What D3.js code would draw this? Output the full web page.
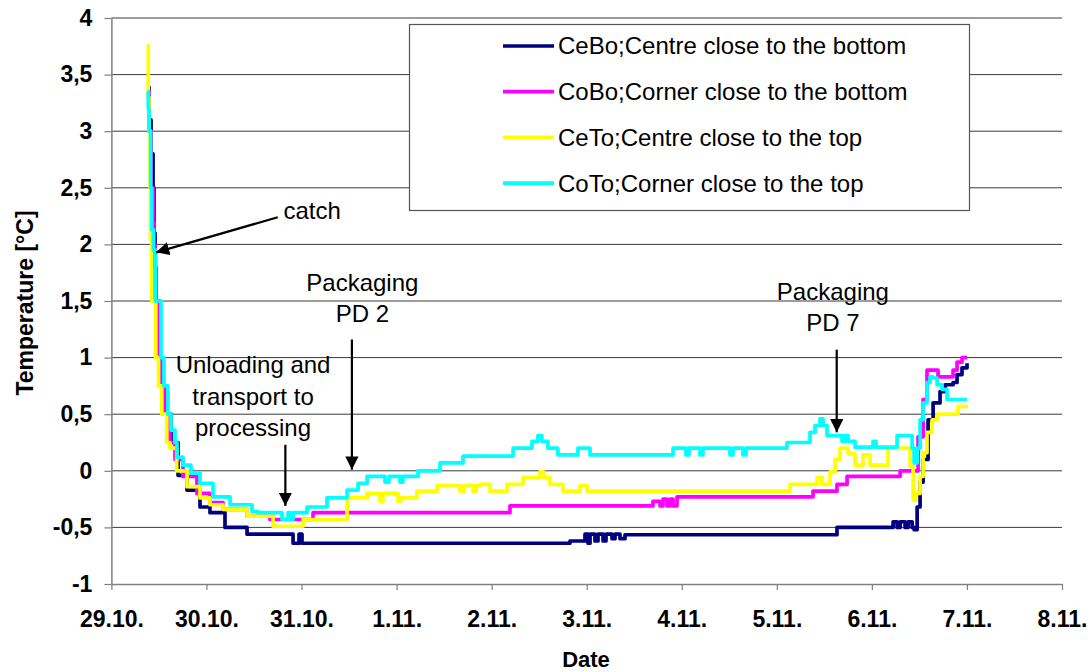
<!DOCTYPE html>
<html>
<head>
<meta charset="utf-8">
<script src="https://cdn.jsdelivr.net/npm/d3@7"></script>
<style>
  body { margin: 0; background: #fff; }
  svg { display: block; font-family: "Liberation Sans", Arial, sans-serif; }
</style>
</head>
<body>
<svg width="1092" height="672"></svg>
<script>
// day = days since 29.10. 00:00, temp in °C
var dateLabels = ["29.10.", "30.10.", "31.10.", "1.11.", "2.11.", "3.11.", "4.11.", "5.11.", "6.11.", "7.11.", "8.11."];
var tempTicks = [-1, -0.5, 0, 0.5, 1, 1.5, 2, 2.5, 3, 3.5, 4];

var seriesNames = ["CeBo;Centre close to the bottom", "CoBo;Corner close to the bottom",
                   "CeTo;Centre close to the top", "CoTo;Corner close to the top"];
var seriesColors = ["#000080", "#ff00ff", "#ffff00", "#00ffff"];

var cebo = [
  [0.378, 3.39], [0.396, 3.1], [0.417, 2.8], [0.438, 2.5], [0.448, 2.1], [0.459, 1.8], [0.469, 1.5],
  [0.511, 1.0], [0.543, 0.75], [0.574, 0.5], [0.627, 0.25], [0.701, -0.04], [0.795, -0.17],
  [0.932, -0.32], [1.037, -0.37], [1.195, -0.5], [1.427, -0.56], [1.911, -0.64], [1.974, -0.56],
  [2.005, -0.64], [4.824, -0.62], [4.982, -0.56], [5.014, -0.64], [5.035, -0.56], [5.087, -0.62],
  [5.119, -0.56], [5.172, -0.62], [5.203, -0.56], [5.266, -0.6], [5.298, -0.56], [5.350, -0.6],
  [5.403, -0.565], [7.633, -0.5], [8.223, -0.45], [8.265, -0.5], [8.297, -0.45], [8.349, -0.5],
  [8.381, -0.45], [8.423, -0.5], [8.444, -0.52], [8.476, -0.32], [8.507, -0.1], [8.539, 0.1],
  [8.591, 0.45], [8.644, 0.6], [8.717, 0.7], [8.770, 0.76], [8.854, 0.78], [8.896, 0.85],
  [8.948, 0.91], [9.001, 0.95]
];

var cobo = [
  [0.378, 3.35], [0.396, 3.0], [0.417, 2.5], [0.438, 2.2], [0.448, 2.0], [0.459, 1.5], [0.501, 1.0],
  [0.532, 0.75], [0.564, 0.5], [0.616, 0.25], [0.669, 0.1], [0.753, -0.05], [0.900, -0.2],
  [1.037, -0.28], [1.174, -0.34], [1.427, -0.4], [1.668, -0.43], [2.121, -0.37], [4.193, -0.31],
  [5.697, -0.27], [5.771, -0.31], [5.803, -0.25], [5.845, -0.31], [5.876, -0.25], [5.908, -0.31],
  [5.950, -0.23], [7.381, -0.18], [7.633, -0.12], [7.739, -0.05], [8.297, 0.0], [8.486, 0.3],
  [8.539, 0.63], [8.580, 0.89], [8.696, 0.83], [8.854, 0.89], [8.896, 0.96], [8.948, 1.0], [9.001, 1.0]
];

var ceto = [
  [0.378, 3.76], [0.388, 3.3], [0.396, 3.0], [0.406, 2.5], [0.411, 2.04], [0.424, 1.5], [0.466, 1.0],
  [0.495, 0.75], [0.529, 0.5], [0.582, 0.25], [0.616, 0.2], [0.687, 0.0], [0.795, -0.14],
  [0.932, -0.24], [1.037, -0.3], [1.174, -0.34], [1.427, -0.4], [1.700, -0.49], [2.016, -0.43],
  [2.479, -0.24], [2.690, -0.2], [2.826, -0.27], [2.857, -0.2], [3.015, -0.27], [3.046, -0.24],
  [3.214, -0.18], [3.426, -0.13], [3.667, -0.18], [3.709, -0.13], [3.804, -0.18], [3.835, -0.13],
  [3.878, -0.12], [3.983, -0.18], [4.161, -0.12], [4.330, -0.06], [4.508, -0.01], [4.550, -0.06],
  [4.613, -0.12], [4.750, -0.18], [4.929, -0.13], [5.003, -0.18], [7.139, -0.12], [7.423, -0.06],
  [7.475, -0.12], [7.560, -0.01], [7.612, 0.1], [7.665, 0.2], [7.750, 0.15], [7.823, 0.05],
  [7.907, 0.14], [7.981, 0.05], [8.054, 0.05], [8.170, 0.2], [8.402, 0.04], [8.434, -0.26],
  [8.465, -0.2], [8.507, -0.05], [8.539, 0.16], [8.580, 0.34], [8.633, 0.45], [8.686, 0.5],
  [8.906, 0.57], [9.012, 0.57]
];

var coto = [
  [0.378, 3.35], [0.388, 3.2], [0.396, 3.0], [0.413, 2.5], [0.424, 2.13], [0.441, 1.95], [0.466, 1.5],
  [0.522, 1.0], [0.553, 0.75], [0.595, 0.5], [0.627, 0.36], [0.669, 0.25], [0.690, 0.12],
  [0.753, 0.05], [0.837, -0.02], [0.932, -0.11], [1.069, -0.23], [1.248, -0.3], [1.479, -0.36],
  [1.542, -0.37], [1.795, -0.43], [1.858, -0.37], [1.879, -0.43], [1.911, -0.37], [2.058, -0.32],
  [2.268, -0.24], [2.479, -0.17], [2.595, -0.11], [2.690, -0.05], [2.878, -0.1], [2.920, -0.05],
  [3.036, -0.1], [3.067, -0.05], [3.226, 0.0], [3.457, 0.07], [3.699, 0.13], [4.225, 0.2],
  [4.424, 0.26], [4.487, 0.31], [4.529, 0.26], [4.592, 0.2], [4.697, 0.14], [4.908, 0.2],
  [5.035, 0.14], [5.908, 0.2], [6.044, 0.14], [6.076, 0.2], [6.192, 0.14], [6.223, 0.2],
  [6.507, 0.14], [6.539, 0.2], [6.644, 0.14], [6.676, 0.2], [7.107, 0.25], [7.349, 0.34],
  [7.402, 0.4], [7.454, 0.46], [7.486, 0.4], [7.528, 0.31], [7.686, 0.26], [7.718, 0.31],
  [7.750, 0.26], [7.823, 0.21], [8.012, 0.26], [8.044, 0.21], [8.265, 0.31], [8.423, 0.2],
  [8.444, 0.07], [8.476, 0.2], [8.507, 0.45], [8.539, 0.6], [8.580, 0.78], [8.612, 0.83],
  [8.644, 0.82], [8.686, 0.76], [8.739, 0.72], [8.791, 0.63], [9.001, 0.63]
];

// annotations: text lines, text anchor point [day, temp], arrow from/to [day, temp]
var notes = [
  { lines: ["catch"], at: [1.81, 2.22], anchor: "start", from: [1.75, 2.24], to: [0.47, 1.93] },
  { lines: ["Unloading and", "transport to", "processing"], at: [1.49, 0.86], anchor: "middle", from: [1.83, 0.23], to: [1.83, -0.31] },
  { lines: ["Packaging", "PD 2"], at: [2.64, 1.59], anchor: "middle", from: [2.53, 1.16], to: [2.53, 0.01] },
  { lines: ["Packaging", "PD 7"], at: [7.59, 1.51], anchor: "middle", from: [7.63, 1.07], to: [7.63, 0.34] }
];

var svg = d3.select("svg");
var x = d3.scaleLinear().domain([0, 10]).range([111.4, 1062]);
var y = d3.scaleLinear().domain([-1, 4]).range([584, 18]);

// gridlines
svg.append("g").selectAll("line")
  .data(tempTicks.filter(d => d > -1))
  .enter().append("line")
    .attr("x1", x(0)).attr("x2", x(10))
    .attr("y1", d => y(d)).attr("y2", d => y(d))
    .attr("stroke", "#3a3a3a").attr("stroke-width", 1);

// axes
var xAxis = svg.append("g")
    .attr("transform", "translate(0," + y(-1) + ")")
    .call(d3.axisBottom(x).tickValues(d3.range(0, 11)).tickFormat(i => dateLabels[i])
      .tickSize(6).tickSizeOuter(0).tickPadding(21));
var yAxis = svg.append("g")
    .attr("transform", "translate(" + x(0) + ",0)")
    .call(d3.axisLeft(y).tickValues(tempTicks).tickFormat(d => String(d).replace(".", ","))
      .tickSize(7).tickSizeOuter(0).tickPadding(12));

[xAxis, yAxis].forEach(a => {
  a.select(".domain").attr("stroke", "#808080").attr("stroke-width", 1.5);
  a.selectAll(".tick line").attr("stroke", "#808080").attr("stroke-width", 1.2);
  a.selectAll("text").attr("fill", "#000")
    .style("font-family", "'Liberation Sans', Arial, sans-serif")
    .style("font-weight", "bold").style("font-size", "23px");
});

svg.append("text")
    .attr("transform", "translate(33,303) rotate(-90)")
    .attr("text-anchor", "middle")
    .style("font-weight", "bold").style("font-size", "23px")
    .text("Temperature [°C]");

svg.append("text")
    .attr("x", 586).attr("y", 667)
    .attr("text-anchor", "middle")
    .style("font-weight", "bold").style("font-size", "22px")
    .text("Date");

// lines
var line = d3.line()
    .x(d => x(d[0]))
    .y(d => y(d[1]))
    .curve(d3.curveStepAfter);

svg.append("g").selectAll("path")
  .data([cebo, cobo, ceto, coto])
  .enter().append("path")
    .attr("d", line)
    .attr("fill", "none")
    .attr("stroke", (d, i) => seriesColors[i])
    .attr("stroke-width", 3.7)
    .attr("stroke-linejoin", "round");

// legend
var legend = svg.append("g");
legend.append("rect")
    .attr("x", 409.5).attr("y", 24.5).attr("width", 560).attr("height", 186)
    .attr("fill", "#fff").attr("stroke", "#555").attr("stroke-width", 1.2);
var item = legend.selectAll("g.item").data(seriesNames)
  .enter().append("g")
    .attr("transform", (d, i) => "translate(0," + (46 + i * 45.7) + ")");
item.append("line")
    .attr("x1", 503).attr("x2", 554)
    .attr("stroke", (d, i) => seriesColors[i]).attr("stroke-width", 3.7);
item.append("text")
    .attr("x", 558).attr("dy", "0.35em")
    .style("font-size", "24px")
    .text(d => d);

// annotations
svg.append("defs").append("marker")
    .attr("id", "arrow").attr("viewBox", "0 0 10 10")
    .attr("refX", 10).attr("refY", 5)
    .attr("markerWidth", 6).attr("markerHeight", 6)
    .attr("orient", "auto")
  .append("path").attr("d", "M0,0L10,5L0,10z").attr("fill", "#000");

var note = svg.append("g").selectAll("g").data(notes).enter().append("g");
note.append("line")
    .attr("x1", d => x(d.from[0])).attr("y1", d => y(d.from[1]))
    .attr("x2", d => x(d.to[0])).attr("y2", d => y(d.to[1]))
    .attr("stroke", "#000").attr("stroke-width", 2.2)
    .attr("marker-end", "url(#arrow)");
note.append("text")
    .attr("text-anchor", d => d.anchor)
    .style("font-size", "24px")
  .selectAll("tspan").data(d => d.lines.map(t => ({ t: t, d: d })))
  .enter().append("tspan")
    .attr("x", o => x(o.d.at[0]))
    .attr("y", (o, i) => y(o.d.at[1]) + i * 31.5)
    .text(o => o.t);
</script>
</body>
</html>
